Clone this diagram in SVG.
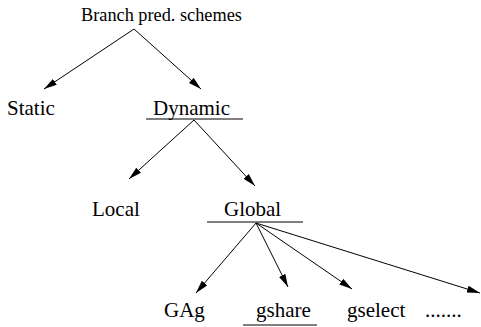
<svg xmlns="http://www.w3.org/2000/svg" width="481" height="327" viewBox="0 0 481 327">
<defs>
<marker id="ah" markerUnits="userSpaceOnUse" markerWidth="14" markerHeight="10" viewBox="0 0 14 10" refX="13" refY="5" orient="auto">
<path d="M0,1.5 L13,5 L0,8.5 Z" fill="#000"/>
</marker>
<style>
text{font-family:'Liberation Serif','Times New Roman',serif;font-size:21px;fill:#000}
.t{font-size:18.3px}
.c line{stroke:#000;stroke-width:1;marker-end:url(#ah)}
.u{stroke:#000;stroke-width:1.2}
</style>
</defs>
<rect width="481" height="327" fill="#fff"/>
<g id="root"><text class="t" x="81" y="21">Branch pred. schemes</text></g>
<g id="static"><text x="7" y="115">Static</text></g>
<g id="dynamic"><text x="153" y="115">Dynamic</text><line class="u" x1="146" y1="119" x2="243" y2="119"/></g>
<g id="local"><text x="92" y="216">Local</text></g>
<g id="global"><text x="224" y="216">Global</text><line class="u" x1="207" y1="222" x2="303" y2="222"/></g>
<g id="gag"><text x="164" y="317">GAg</text></g>
<g id="gshare"><text x="256" y="317">gshare</text><line class="u" x1="243" y1="325" x2="317" y2="325"/></g>
<g id="gselect"><text x="347" y="317">gselect</text></g>
<g id="more"><text x="425" y="317">.......</text></g>
<g class="c" id="connectors">
<line x1="134" y1="29" x2="44" y2="89"/>
<line x1="134" y1="29" x2="201" y2="89"/>
<line x1="194" y1="120" x2="129" y2="179"/>
<line x1="194" y1="120" x2="255" y2="186"/>
<line x1="256" y1="223" x2="196" y2="293"/>
<line x1="256" y1="223" x2="288" y2="287"/>
<line x1="256" y1="223" x2="352" y2="289"/>
<line x1="256" y1="223" x2="480" y2="293"/>
</g>
</svg>
